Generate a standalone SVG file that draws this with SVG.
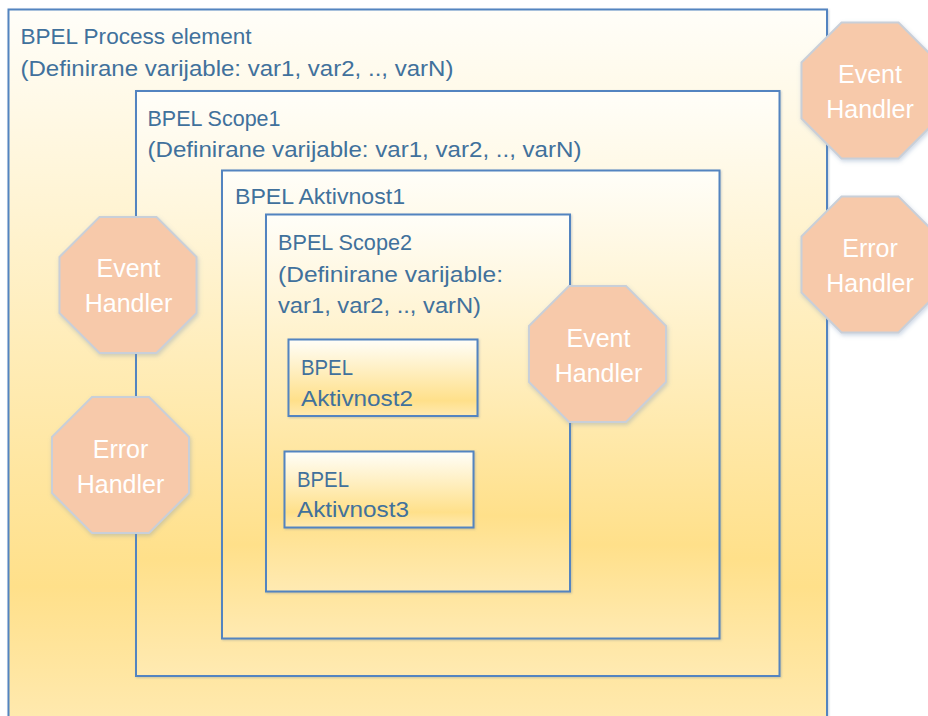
<svg xmlns="http://www.w3.org/2000/svg" xmlns:xlink="http://www.w3.org/1999/xlink" width="928" height="716" viewBox="0 0 928 716">
  <defs>
    <linearGradient id="gold" x1="0" y1="0" x2="0" y2="1">
      <stop offset="0" stop-color="#FFFEF9"/>
      <stop offset="0.8" stop-color="#FFE08A"/>
      <stop offset="1" stop-color="#FFEAB2"/>
    </linearGradient>
    <filter id="boxShadow" x="-5%" y="-5%" width="110%" height="110%">
      <feDropShadow dx="1" dy="1" stdDeviation="0.8" flood-color="#6B7F95" flood-opacity="0.35"/>
    </filter>
    <filter id="octShadow" x="-15%" y="-15%" width="130%" height="130%">
      <feDropShadow dx="1" dy="2" stdDeviation="2.2" flood-color="#6F8FB5" flood-opacity="0.35"/>
    </filter>
    <polygon id="oct" points="-28.5,-68 28.5,-68 68.5,-28 68.5,28 28.5,68 -28.5,68 -68.5,28 -68.5,-28"/>
    <style>
      .box { fill: url(#gold); stroke: #5384C0; stroke-width: 2; filter: url(#boxShadow); }
      .lbl { font-family: "Liberation Sans", Arial, sans-serif; font-size: 22.5px; fill: #41719C; }
      .octShape { fill: #F7C9AA; stroke: #C9CFD8; stroke-width: 2; filter: url(#octShadow); }
      .octTxt { font-family: "Liberation Sans", Arial, sans-serif; font-size: 25px; fill: #FFFFFF; text-anchor: middle; }
    </style>
  </defs>

  <rect width="928" height="716" fill="#FFFFFF"/>

  <g id="process">
    <rect class="box" x="8.5" y="9.5" width="818.5" height="722"/>
    <text class="lbl" x="20.5" y="44" textLength="231" lengthAdjust="spacingAndGlyphs">BPEL Process element</text>
    <text class="lbl" x="20.5" y="76" textLength="433" lengthAdjust="spacingAndGlyphs">(Definirane varijable: var1, var2, .., varN)</text>
  </g>

  <g id="scope1">
    <rect class="box" x="136" y="91" width="643.5" height="585"/>
    <text class="lbl" x="147.5" y="126" textLength="133" lengthAdjust="spacingAndGlyphs">BPEL Scope1</text>
    <text class="lbl" x="147.5" y="157" textLength="434" lengthAdjust="spacingAndGlyphs">(Definirane varijable: var1, var2, .., varN)</text>
  </g>

  <g id="aktivnost1">
    <rect class="box" x="222" y="170.5" width="497.5" height="468"/>
    <text class="lbl" x="235" y="204" textLength="170" lengthAdjust="spacingAndGlyphs">BPEL Aktivnost1</text>
  </g>

  <g id="scope2">
    <rect class="box" x="266" y="214.5" width="304" height="377"/>
    <text class="lbl" x="278" y="250" textLength="134" lengthAdjust="spacingAndGlyphs">BPEL Scope2</text>
    <text class="lbl" x="278" y="282" textLength="225" lengthAdjust="spacingAndGlyphs">(Definirane varijable:</text>
    <text class="lbl" x="278" y="313" textLength="203" lengthAdjust="spacingAndGlyphs">var1, var2, .., varN)</text>
  </g>

  <g id="aktivnost2">
    <rect class="box" x="288.5" y="339.5" width="189" height="76.5"/>
    <text class="lbl" x="301" y="375" textLength="52" lengthAdjust="spacingAndGlyphs">BPEL</text>
    <text class="lbl" x="301" y="406" textLength="112" lengthAdjust="spacingAndGlyphs">Aktivnost2</text>
  </g>

  <g id="aktivnost3">
    <rect class="box" x="284.5" y="451.5" width="189" height="76"/>
    <text class="lbl" x="297" y="487" textLength="52" lengthAdjust="spacingAndGlyphs">BPEL</text>
    <text class="lbl" x="297" y="517" textLength="112" lengthAdjust="spacingAndGlyphs">Aktivnost3</text>
  </g>

  <g id="event-handler-process">
    <use xlink:href="#oct" href="#oct" class="octShape" x="870" y="90.5"/>
    <text class="octTxt" x="870" y="83">Event</text>
    <text class="octTxt" x="870" y="118">Handler</text>
  </g>

  <g id="error-handler-process">
    <use xlink:href="#oct" href="#oct" class="octShape" x="870" y="264.5"/>
    <text class="octTxt" x="870" y="257">Error</text>
    <text class="octTxt" x="870" y="292">Handler</text>
  </g>

  <g id="event-handler-scope1">
    <use xlink:href="#oct" href="#oct" class="octShape" x="128" y="285"/>
    <text class="octTxt" x="128.5" y="277">Event</text>
    <text class="octTxt" x="128.5" y="312">Handler</text>
  </g>

  <g id="error-handler-scope1">
    <use xlink:href="#oct" href="#oct" class="octShape" x="120.5" y="465"/>
    <text class="octTxt" x="120.5" y="458">Error</text>
    <text class="octTxt" x="120.5" y="493">Handler</text>
  </g>

  <g id="event-handler-scope2">
    <use xlink:href="#oct" href="#oct" class="octShape" x="597.5" y="354"/>
    <text class="octTxt" x="598.5" y="347">Event</text>
    <text class="octTxt" x="598.5" y="382">Handler</text>
  </g>

  <g id="connectors"/>
</svg>
